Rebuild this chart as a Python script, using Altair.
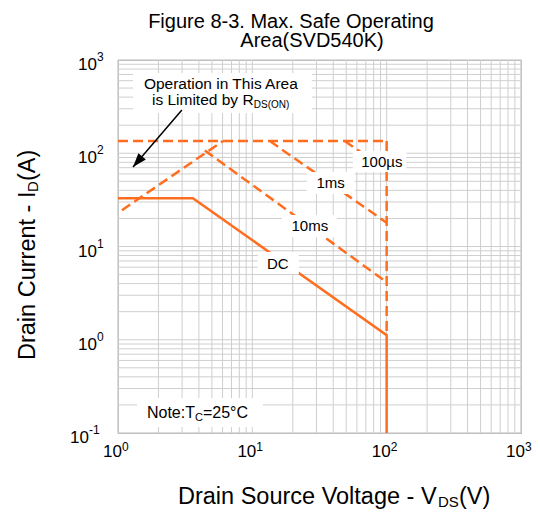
import altair as alt
import pandas as pd

# ---------------- data ----------------
top_v = [1, 100];          top_i = [135, 135]        # 100us current ceiling
edge_v = [100, 100];       edge_i = [135, 1.12]      # BVdss edge (dashed part)
us100_v = [48.7, 100];     us100_i = [135, 66]
ms1_v = [13.5, 100];       ms1_i = [135, 18]
ms10_v = [4.43, 100];      ms10_i = [107, 4.14]
rds_v = [1.07, 6.03];      rds_i = [24.5, 135]       # RDS(on) limit
dc_v = [1, 3.61, 100, 100]; dc_i = [33, 33, 1.12, 0.1]

x_ticks = [1, 10, 100, 1000]
x_exp = ["0", "1", "2", "3"]
y_ticks = [0.1, 1, 10, 100, 1000]
y_exp = ["-1", "0", "1", "2", "3"]

ORANGE = "#FF6E1F"
GRID = "#cfcfcf"
FONT = "Liberation Sans"

dash_segs = [("top", top_v, top_i), ("edge", edge_v, edge_i), ("us100", us100_v, us100_i),
             ("ms1", ms1_v, ms1_i), ("ms10", ms10_v, ms10_i), ("rds", rds_v, rds_i)]
rows = []
for name, vs, cs in dash_segs:
    for k, (v, c) in enumerate(zip(vs, cs)):
        rows.append({"seg": name, "o": k, "v": v, "i": c})
dash_df = pd.DataFrame(rows)
dc_df = pd.DataFrame({"seg": "dc", "o": list(range(len(dc_v))), "v": dc_v, "i": dc_i})

grid_x = [m * 10 ** k for k in range(0, 3) for m in range(1, 10)] + [1000]
grid_y = [round(m * 10.0 ** k, 6) for k in range(-1, 3) for m in range(1, 10)] + [1000]

xs = alt.Scale(type="log", domain=[1, 1000], nice=False)
ys = alt.Scale(type="log", domain=[0.1, 1000], nice=False)

gx = alt.Chart(pd.DataFrame({"g": grid_x})).mark_rule(color=GRID, strokeWidth=1).encode(
    x=alt.X("g:Q", scale=xs, axis=None))
gy = alt.Chart(pd.DataFrame({"g": grid_y})).mark_rule(color=GRID, strokeWidth=1).encode(
    y=alt.Y("g:Q", scale=ys, axis=None))

dashed = alt.Chart(dash_df).mark_line(color=ORANGE, strokeWidth=2.5, strokeDash=[10, 5]).encode(
    x=alt.X("v:Q", scale=xs, axis=None),
    y=alt.Y("i:Q", scale=ys, axis=None),
    detail="seg:N", order="o:Q")

solid = alt.Chart(dc_df).mark_line(color=ORANGE, strokeWidth=2.5).encode(
    x=alt.X("v:Q", scale=xs, axis=None),
    y=alt.Y("i:Q", scale=ys, axis=None),
    detail="seg:N", order="o:Q")

# ---------------- annotation boxes (data coordinates) ----------------
boxes = pd.DataFrame({
    "x":  [1.293, 56, 25.4, 16.57, 10.99, 1.384],
    "x2": [27.7, 140, 57.8, 42.5, 22.2, 11.97],
    "y":  [725.5, 105.7, 62.9, 21.8, 8.73, 0.2372],
    "y2": [270.2, 62.9, 36.6, 12.6, 5.07, 0.116],
})
box_layer = alt.Chart(boxes).mark_rect(color="white").encode(
    x=alt.X("x:Q", scale=xs, axis=None), x2="x2:Q",
    y=alt.Y("y:Q", scale=ys, axis=None), y2="y2:Q")


def dtext(t, x, y, size, align="center"):
    return alt.Chart(pd.DataFrame({"t": [t], "x": [x], "y": [y]})).mark_text(
        font=FONT, fontSize=size, align=align, baseline="alphabetic", color="black").encode(
        text="t:N", x=alt.X("x:Q", scale=xs, axis=None), y=alt.Y("y:Q", scale=ys, axis=None))


def ptext(t, x, y, size, align="left", angle=0):
    return alt.Chart(pd.DataFrame({"t": [t]})).mark_text(
        font=FONT, fontSize=size, align=align, baseline="alphabetic", color="black",
        angle=angle).encode(text="t:N", x=alt.value(x), y=alt.value(y))


labels = [
    dtext("Operation in This Area", 5.83, 488.7, 15.5),
    dtext("is Limited by R", 1.789, 329.2, 15.5, "left"),
    dtext("DS(ON)", 10.26, 305.7, 10, "left"),
    dtext("100µs", 92, 71.3, 15),
    dtext("1ms", 38.3, 42.4, 15),
    dtext("10ms", 26.8, 14.66, 15),
    dtext("DC", 15.47, 5.74, 15),
    dtext("Note:T", 1.643, 0.1449, 16, "left"),
    dtext("C", 3.74, 0.1345, 11, "left"),
    dtext("=25°C", 4.285, 0.1449, 16, "left"),
]

# arrow
arrow_df = pd.DataFrame({"x": [2.99], "y": [290.9], "x2": [1.293], "y2": [71.2]})
arrow_line = alt.Chart(arrow_df).mark_rule(color="black", strokeWidth=1.5).encode(
    x=alt.X("x:Q", scale=xs, axis=None), y=alt.Y("y:Q", scale=ys, axis=None),
    x2="x2:Q", y2="y2:Q")
arrow_head = alt.Chart(arrow_df).mark_point(
    shape="M0,0L-0.7,2L0.7,2Z", filled=True, color="black", opacity=1,
    size=196, angle=220.7).encode(
    x=alt.X("x2:Q", scale=xs, axis=None), y=alt.Y("y2:Q", scale=ys, axis=None))

# ---------------- tick labels ----------------
xt_df = pd.DataFrame({"v": x_ticks, "e": x_exp, "b": ["10"] * len(x_ticks)})
xt_base = alt.Chart(xt_df).mark_text(font=FONT, fontSize=17, align="right",
                                     baseline="alphabetic", dx=4).encode(
    x=alt.X("v:Q", scale=xs, axis=None), y=alt.value(397), text="b:N")
xt_sup = alt.Chart(xt_df).mark_text(font=FONT, fontSize=12, align="left",
                                    baseline="alphabetic", dx=4).encode(
    x=alt.X("v:Q", scale=xs, axis=None), y=alt.value(391), text="e:N")

yt_df = pd.DataFrame({"v": y_ticks, "e": y_exp, "b": ["10"] * len(y_ticks)})
yt_base = alt.Chart(yt_df).transform_calculate(
    px="datum.e == '-1' ? -29 : -21").mark_text(
    font=FONT, fontSize=17, align="right", baseline="alphabetic", dy=10).encode(
    x=alt.X("px:Q", scale=None, axis=None), y=alt.Y("v:Q", scale=ys, axis=None), text="b:N")
yt_sup = alt.Chart(yt_df).transform_calculate(
    px="datum.e == '-1' ? -29 : -21").mark_text(
    font=FONT, fontSize=12, align="left", baseline="alphabetic", dy=1).encode(
    x=alt.X("px:Q", scale=None, axis=None), y=alt.Y("v:Q", scale=ys, axis=None), text="e:N")

# ---------------- titles ----------------
titles = [
    ptext("Figure 8-3. Max. Safe Operating", 173, -32, 20, "center"),
    ptext("Area(SVD540K)", 194, -13, 20, "center"),
    ptext("Drain Source Voltage - V", 60, 444, 23.5),
    ptext("DS", 320, 447, 15),
    ptext("(V)", 341, 444, 23.5),
    ptext("Drain Current - I", -83, 300, 23.5, "left", 270),
    ptext("D", -80, 132, 15, "left", 270),
    ptext("(A)", -83, 121, 23.5, "left", 270),
]

chart = alt.layer(
    gx, gy, dashed, solid, box_layer, *labels, arrow_line, arrow_head,
    xt_base, xt_sup, yt_base, yt_sup, *titles
).properties(
    width=403, height=373,
    padding={"left": 110, "top": 52, "right": 11, "bottom": 76},
    autosize=alt.AutoSizeParams(type="none"),
).configure_view(stroke="#b0b0b0", strokeWidth=1.2)

chart.save("out.html", embed_options={"renderer": "svg", "actions": False})
